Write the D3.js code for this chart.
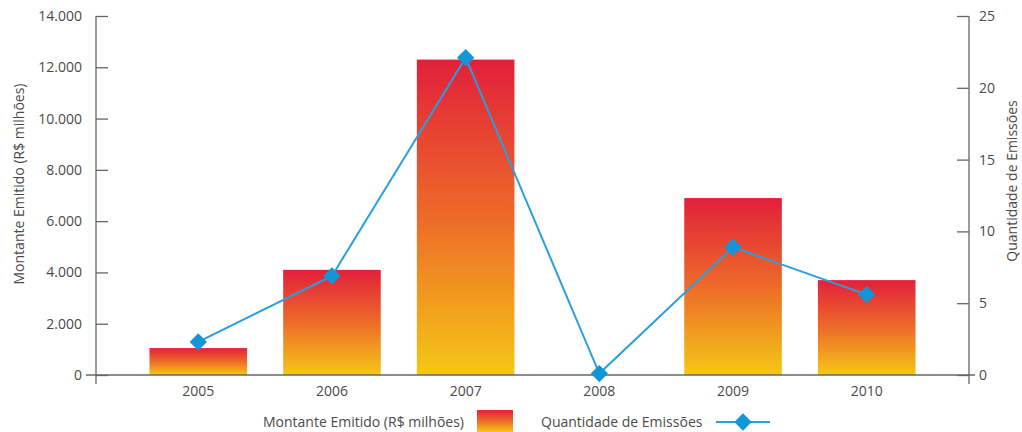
<!DOCTYPE html>
<html>
<head>
<meta charset="utf-8">
<script src="https://cdn.jsdelivr.net/npm/d3@7"></script>
<style>
  html, body { margin: 0; padding: 0; background: #fff; }
  svg { display: block; font-family: "Open Sans", sans-serif; }
</style>
</head>
<body>
<svg id="chart" width="1022" height="432"></svg>
<script>
// Emissões por ano
const years = ["2005", "2006", "2007", "2008", "2009", "2010"];
const montante = [1050, 4100, 12300, 0, 6900, 3700];      // R$ milhões
const quantidade = [2.3, 6.9, 22.1, 0.1, 8.9, 5.6];       // número de emissões
const leftTicks = [0, 2000, 4000, 6000, 8000, 10000, 12000, 14000];
const rightTicks = [0, 5, 10, 15, 20, 25];

const svg = d3.select("#chart");
const textColor = "#4a4a4a";
const axisColor = "#666";
const lineColor = "#2b9fde";
const markerColor = "#1196d8";
const fontSize = "14px";

const plotLeft = 96, plotRight = 969, plotTop = 16, plotBottom = 375;

const x = d3.scaleBand().domain(years).range([plotLeft, plotRight])
  .paddingInner(0.27).paddingOuter(0.4);
const yL = d3.scaleLinear().domain([0, 14000]).range([plotBottom, plotTop]);
const yR = d3.scaleLinear().domain([0, 25]).range([plotBottom, plotTop]);

// vertical gradient per bar: red on top, yellow at the base
const defs = svg.append("defs");
const grad = defs.append("linearGradient").attr("id", "barGrad")
  .attr("x1", 0).attr("y1", 0).attr("x2", 0).attr("y2", 1);
grad.append("stop").attr("offset", "0%").attr("stop-color", "#e2203b");
grad.append("stop").attr("offset", "50%").attr("stop-color", "#ed6b29");
grad.append("stop").attr("offset", "100%").attr("stop-color", "#f6c716");

// bars
svg.append("g").selectAll("rect")
  .data(years.map((y, i) => ({ year: y, v: montante[i] })).filter(d => d.v > 0))
  .join("rect")
  .attr("x", d => x(d.year))
  .attr("width", x.bandwidth())
  .attr("y", d => yL(d.v))
  .attr("height", d => yL(0) - yL(d.v))
  .attr("fill", "url(#barGrad)");

function styleTicks(g) {
  g.select(".domain").remove();
  g.selectAll(".tick line").attr("stroke", axisColor).attr("stroke-width", 1.3);
  g.selectAll(".tick text").attr("fill", textColor).style("font-size", fontSize)
    .style("font-family", "'Open Sans', sans-serif");
}

// left axis
svg.append("g").attr("transform", `translate(${plotLeft},0)`)
  .call(d3.axisLeft(yL).tickValues(leftTicks).tickSize(-12).tickPadding(14)
    .tickFormat(d => d3.format(",")(d).replace(/,/g, ".")))
  .call(styleTicks);
svg.append("line").attr("x1", plotLeft).attr("x2", plotLeft).attr("y1", plotTop).attr("y2", plotBottom + 9)
  .attr("stroke", axisColor).attr("stroke-width", 1.3);

// right axis
svg.append("g").attr("transform", `translate(${plotRight},0)`)
  .call(d3.axisRight(yR).tickValues(rightTicks).tickSize(-12).tickPadding(10))
  .call(styleTicks);
svg.append("line").attr("x1", plotRight).attr("x2", plotRight).attr("y1", plotTop).attr("y2", plotBottom + 9)
  .attr("stroke", axisColor).attr("stroke-width", 1.3);

// baseline and category labels
svg.append("line").attr("x1", plotLeft - 10).attr("x2", plotRight + 6)
  .attr("y1", plotBottom).attr("y2", plotBottom)
  .attr("stroke", axisColor).attr("stroke-width", 1.3);
svg.append("g").attr("transform", `translate(0,${plotBottom})`)
  .call(d3.axisBottom(x).tickSize(0).tickPadding(11))
  .call(styleTicks);

// axis titles
svg.append("text").attr("transform", `translate(24,184) rotate(-90)`)
  .attr("text-anchor", "middle").attr("fill", textColor).style("font-size", fontSize)
  .text("Montante Emitido (R$ milhões)");
svg.append("text").attr("transform", `translate(1017,181) rotate(-90)`)
  .attr("text-anchor", "middle").attr("fill", textColor).style("font-size", fontSize)
  .text("Quantidade de Emissões");

// line series with diamond markers
const pts = years.map((y, i) => ({ year: y, v: quantidade[i] }));
const line = d3.line().x(d => x(d.year) + x.bandwidth() / 2).y(d => yR(d.v));
svg.append("path").datum(pts).attr("d", line)
  .attr("fill", "none").attr("stroke", lineColor).attr("stroke-width", 2);
const diamond = d3.symbol().type(d3.symbolSquare).size(150);
svg.append("g").selectAll("path").data(pts).join("path")
  .attr("d", diamond())
  .attr("transform", d => `translate(${x(d.year) + x.bandwidth() / 2},${yR(d.v)}) rotate(45)`)
  .attr("fill", markerColor);

// legend
const lg = svg.append("g").attr("transform", "translate(0,422)");
lg.append("text").attr("x", 263).attr("y", 5).attr("fill", textColor)
  .style("font-size", fontSize).text("Montante Emitido (R$ milhões)");
lg.append("rect").attr("x", 477).attr("y", -12).attr("width", 36).attr("height", 22)
  .attr("fill", "url(#barGrad)");
lg.append("text").attr("x", 541).attr("y", 5).attr("fill", textColor)
  .style("font-size", fontSize).text("Quantidade de Emissões");
lg.append("line").attr("x1", 716).attr("x2", 770).attr("y1", 0).attr("y2", 0)
  .attr("stroke", lineColor).attr("stroke-width", 2);
lg.append("path").attr("d", diamond()).attr("transform", "translate(743,0) rotate(45)")
  .attr("fill", markerColor);
</script>
</body>
</html>
